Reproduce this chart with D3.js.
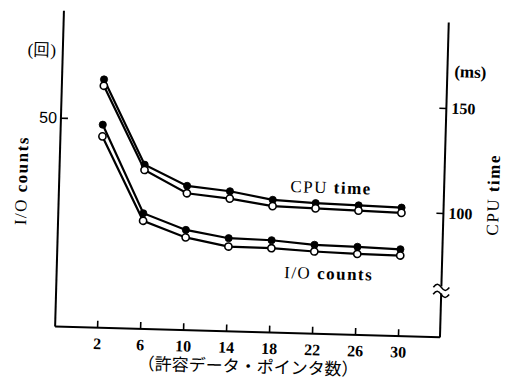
<!DOCTYPE html>
<html>
<head>
<meta charset="utf-8">
<script src="https://cdn.jsdelivr.net/npm/d3@7"></script>
<style>
  body { margin: 0; background: #fff; }
  svg { display: block; }
  .serif { font-family: "Liberation Serif", "DejaVu Serif", serif; fill: #000; }
</style>
</head>
<body>
<svg id="chart" width="505" height="383"></svg>
<script>
// values
const xValues = [2, 6, 10, 14, 18, 22, 26, 30];
const xTicks = [2, 6, 10, 14, 18, 22, 26, 30];
const cpuFilled = [159, 119, 109.5, 107.5, 104, 103, 102.5, 102];
const cpuOpen = [156, 116.5, 106, 104, 101, 100.5, 100, 99.5];
const ioFilled = [48.6, 27.7, 24.0, 22.3, 22.1, 21.3, 21.1, 20.8];
const ioOpen = [45.8, 25.9, 22.2, 20.3, 20.2, 19.7, 19.4, 19.3];
const leftTicks = [50];
const rightTicks = [100, 150];

const svg = d3.select("#chart");
svg.append("rect").attr("width", 505).attr("height", 383).attr("fill", "#fff");

// the scan is tilted slightly clockwise
const g = svg.append("g").attr("transform", "rotate(1.6,250,190)");

const plotLeft = 59, plotRight = 444, plotBottom = 332, plotTop = 16;

const x = d3.scaleLinear().domain([2, 30]).range([101, 402]);
const yL = d3.scaleLinear().domain([0, 50]).range([plotBottom, 123]);
const yR = d3.scaleLinear().domain([100, 150]).range([207.6, 102.5]);

// axis lines
const axisLine = (x1, y1, x2, y2) => g.append("line")
    .attr("x1", x1).attr("y1", y1).attr("x2", x2).attr("y2", y2)
    .attr("stroke", "#000").attr("stroke-width", 2);

axisLine(plotLeft, plotTop, plotLeft, plotBottom);
axisLine(plotLeft, plotBottom, plotRight, plotBottom);
axisLine(plotRight, plotTop + 1, plotRight, 281);
axisLine(plotRight, 288, plotRight, plotBottom);

// break mark on the right axis
[281, 288].forEach(yy => {
    g.append("path")
        .attr("d", `M${plotRight - 8},${yy + 1} c3,-4 5,-4 8,0 s5,4 8,0`)
        .attr("fill", "none").attr("stroke", "#000").attr("stroke-width", 1.6);
});

// ticks
const xAxis = g.append("g")
    .attr("transform", `translate(0,${plotBottom})`)
    .call(d3.axisBottom(x).tickValues(xTicks).tickSize(-7).tickPadding(10));
xAxis.selectAll("text")
    .attr("class", "serif")
    .style("font-size", "16px").style("font-weight", "bold");

const lAxis = g.append("g")
    .attr("transform", `translate(${plotLeft},0)`)
    .call(d3.axisLeft(yL).tickValues(leftTicks).tickSize(-7).tickPadding(4));
lAxis.selectAll("text")
    .style("font-family", "'Liberation Sans', Arial, sans-serif")
    .style("font-size", "16px");

const rAxis = g.append("g")
    .attr("transform", `translate(${plotRight},0)`)
    .call(d3.axisRight(yR).tickValues(rightTicks).tickSize(-7).tickPadding(5));
rAxis.selectAll("text")
    .attr("class", "serif")
    .style("font-size", "16px").style("font-weight", "bold");

g.selectAll(".domain").remove();
g.selectAll(".tick line").attr("stroke", "#000").attr("stroke-width", 1.6);

// series
const series = [
    { values: cpuFilled, y: yR, filled: true },
    { values: cpuOpen, y: yR, filled: false },
    { values: ioFilled, y: yL, filled: true },
    { values: ioOpen, y: yL, filled: false }
];

series.forEach(s => {
    const line = d3.line()
        .x((d, i) => x(xValues[i]))
        .y(d => s.y(d));
    g.append("path")
        .datum(s.values)
        .attr("d", line)
        .attr("fill", "none")
        .attr("stroke", "#000")
        .attr("stroke-width", 2.2);
});

series.forEach(s => {
    g.append("g").selectAll("circle")
        .data(s.values)
        .join("circle")
        .attr("cx", (d, i) => x(xValues[i]))
        .attr("cy", d => s.y(d))
        .attr("r", 3.6)
        .attr("fill", s.filled ? "#000" : "#fff")
        .attr("stroke", "#000")
        .attr("stroke-width", s.filled ? 0.8 : 1.6);
});

// text
const label = (tx, ty, rot) => g.append("text")
    .attr("class", "serif")
    .attr("text-anchor", "middle")
    .attr("dominant-baseline", "central")
    .attr("transform", `translate(${tx},${ty})${rot ? ` rotate(${rot})` : ""}`)
    .style("font-size", "17px")
    .style("letter-spacing", "1.5px");

const addTwoPart = (t, a, b) => {
    t.append("tspan").text(a);
    t.append("tspan").style("font-weight", "bold").text(b);
};

addTwoPart(label(21, 187, -90), "I/O ", "counts");
addTwoPart(label(493, 188, -90), "CPU ", "time");
addTwoPart(label(331, 185, 0), "CPU ", "time");
addTwoPart(label(331, 271, 0), "I/O ", "counts");

label(38, 56, 0).style("letter-spacing", "0px").text("(回)");
label(467, 66, 0).style("letter-spacing", "0px").style("font-weight", "bold").text("(ms)");

g.append("text")
    .attr("x", 253).attr("y", 365)
    .attr("text-anchor", "middle")
    .attr("dominant-baseline", "central")
    .style("font-family", "'Noto Sans CJK JP', sans-serif")
    .style("font-size", "17px")
    .text("（許容データ・ポインタ数）");
</script>
</body>
</html>
